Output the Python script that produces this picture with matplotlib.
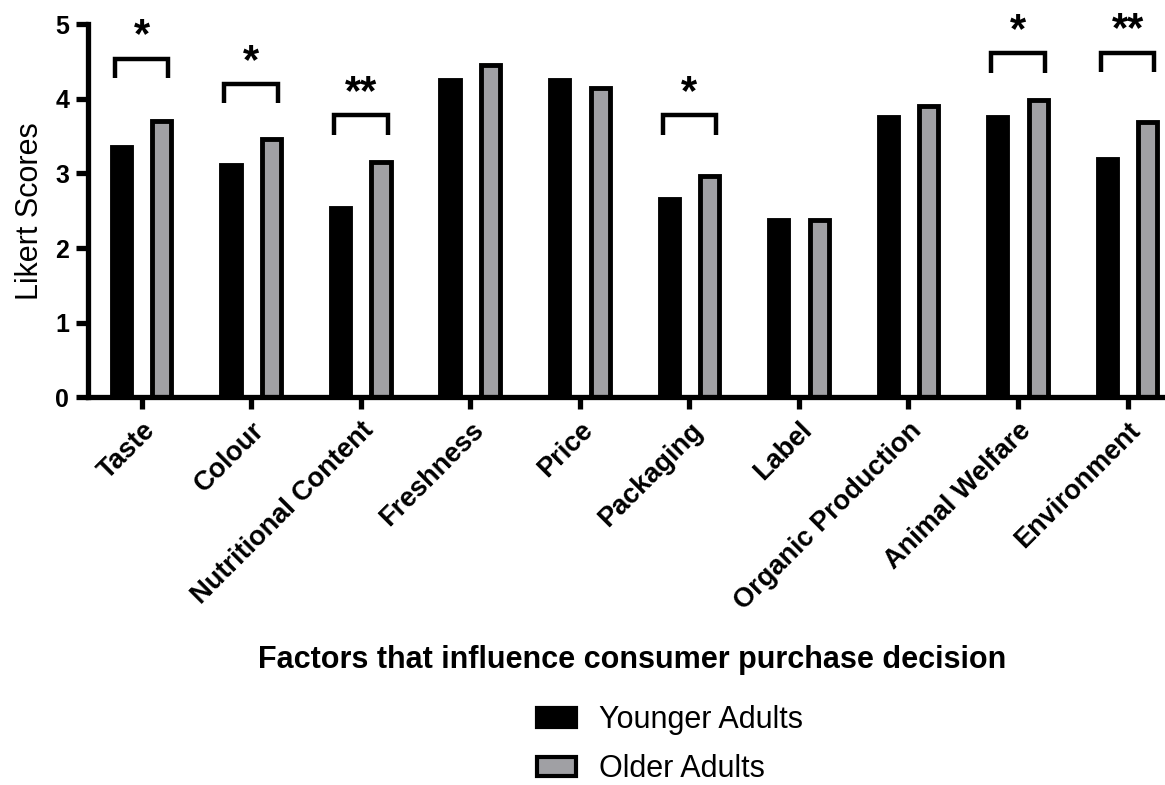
import numpy as np
import matplotlib
matplotlib.use('Agg')
import matplotlib.pyplot as plt
from matplotlib.patches import Patch

plt.rcParams['font.family'] = ['Liberation Sans', 'DejaVu Sans']

factors = ['Taste', 'Colour', 'Nutritional Content', 'Freshness', 'Price',
           'Packaging', 'Label', 'Organic Production', 'Animal Welfare', 'Environment']
younger = [3.36, 3.12, 2.54, 4.26, 4.26, 2.66, 2.37, 3.76, 3.76, 3.19]
older = [3.71, 3.46, 3.16, 4.45, 4.14, 2.97, 2.37, 3.91, 3.98, 3.69]

# significance brackets: (factor index, bracket top, stars)
sig_idx = [0, 1, 2, 5, 8, 9]
sig_top = [4.54, 4.20, 3.78, 3.78, 4.61, 4.62]
sig_stars = ['*', '*', '**', '*', '*', '**']

grey = '#a0a0a4'
x = np.arange(len(factors))
w = 0.175
off = 0.185

fig = plt.figure(figsize=[11.65, 7.85], dpi=100)
ax = fig.add_axes([0.0755, 0.494, 0.93, 0.475])

ax.bar(x - off, younger, w, color='black', edgecolor='black', linewidth=3.5)
ax.bar(x + off, older, w, color=grey, edgecolor='black', linewidth=3.5)

for i, top, s in zip(sig_idx, sig_top, sig_stars):
    xs = [i - 0.245, i - 0.245, i + 0.245, i + 0.245]
    ys = [top - 0.26, top, top, top - 0.26]
    ax.plot(xs, ys, color='black', linewidth=3.2, solid_capstyle='butt',
            solid_joinstyle='miter', clip_on=False)
    ax.text(i, top + 0.30, s, ha='center', va='center', fontsize=30,
            fontweight='bold', clip_on=False)

ax.set_xlim(-0.49, 9.4)
ax.set_ylim(0, 5)
ax.set_yticks(range(6))
ax.set_xticks(x)
ax.set_xticklabels(factors, rotation=45, ha='right', rotation_mode='anchor',
                   fontsize=19.5, fontweight='bold')
for lab in ax.get_yticklabels():
    lab.set_fontweight('bold')
    lab.set_fontsize(18)

for side in ['top', 'right']:
    ax.spines[side].set_visible(False)
for side in ['left', 'bottom']:
    ax.spines[side].set_linewidth(3.8)
ax.tick_params(axis='both', width=3.8, length=8.5, direction='out')
ax.tick_params(axis='x', pad=6)
ax.tick_params(axis='y', pad=5)

ax.set_ylabel('Likert Scores', fontsize=22)
ax.yaxis.set_label_coords(-0.040, 0.5)
fig.text(0.543, 0.159, 'Factors that influence consumer purchase decision',
         ha='center', va='center', fontsize=22, fontweight='bold')

handles = [Patch(facecolor='black', edgecolor='black', linewidth=3),
           Patch(facecolor=grey, edgecolor='black', linewidth=3)]
fig.legend(handles, ['Younger Adults', 'Older Adults'], loc='center left',
           bbox_to_anchor=(0.437, 0.051), frameon=False, fontsize=22,
           handlelength=1.3, handleheight=0.55, labelspacing=0.62, handletextpad=0.75)

fig.savefig('out.png', dpi=100)
